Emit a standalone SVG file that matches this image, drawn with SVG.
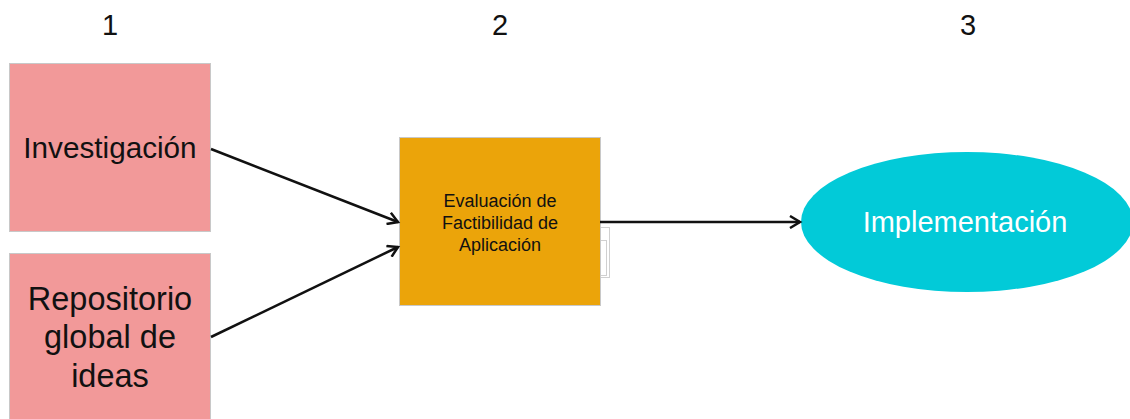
<svg xmlns="http://www.w3.org/2000/svg" width="1130" height="419" viewBox="0 0 1130 419">
<style>
text{font-family:"Liberation Sans",Arial,sans-serif;fill:#111;text-anchor:middle}
.pink{fill:#F29999;stroke:#c8c8c8;stroke-width:1}
.orange{fill:#EBA40A;stroke:#c8c8c8;stroke-width:1}
.cyan{fill:#02CAD8}
.conn{stroke:#111;stroke-width:2.5;fill:none;marker-end:url(#arr)}
.num{font-size:29px}
</style>
<defs>
<marker id="arr" markerWidth="14" markerHeight="14" refX="11" refY="7" orient="auto" markerUnits="userSpaceOnUse">
<path d="M1,1 L11,7 L1,13" fill="none" stroke="#111" stroke-width="2.5"/>
</marker>
</defs>
<rect width="1130" height="419" fill="#fff"/>
<g id="labels">
<text class="num" x="110" y="35">1</text>
<text class="num" x="500" y="35">2</text>
<text class="num" x="968" y="35">3</text>
</g>
<g id="investigacion">
<rect class="pink" x="9.5" y="63.5" width="201" height="168"/>
<text x="110" y="158" font-size="29.7">Investigación</text>
</g>
<g id="repositorio">
<rect class="pink" x="9.5" y="253.5" width="201" height="180"/>
<text x="110" y="310" font-size="32.5">Repositorio</text>
<text x="110" y="348" font-size="32.5">global de</text>
<text x="110" y="387" font-size="32.5">ideas</text>
</g>
<g id="evaluacion">
<rect x="600.5" y="227.5" width="9" height="50" fill="none" stroke="#d0d0d0"/>
<rect x="600.5" y="240.5" width="6" height="35" fill="none" stroke="#d0d0d0"/>
<rect class="orange" x="399.5" y="137.5" width="201" height="168"/>
<text x="500" y="207" font-size="18">Evaluación de</text>
<text x="500" y="229" font-size="18">Factibilidad de</text>
<text x="500" y="251" font-size="18">Aplicación</text>
</g>
<g id="implementacion">
<ellipse class="cyan" cx="967" cy="222" rx="166" ry="70"/>
<text x="965" y="232" font-size="29" style="fill:#fff">Implementación</text>
</g>
<g id="connectors">
<line class="conn" x1="211" y1="149" x2="398" y2="222"/>
<line class="conn" x1="211" y1="337" x2="398" y2="247"/>
<line class="conn" x1="600" y1="222" x2="800" y2="222"/>
</g>
</svg>
